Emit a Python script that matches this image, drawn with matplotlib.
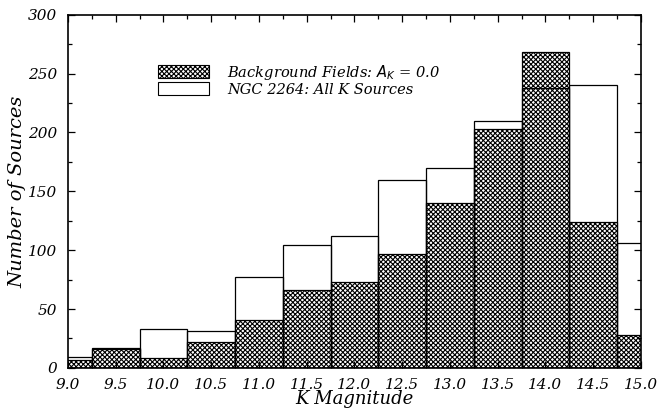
import numpy as np
import matplotlib.pyplot as plt
from matplotlib.patches import Patch
from matplotlib.ticker import MultipleLocator

plt.rcParams['font.family'] = ['DejaVu Serif']
plt.rcParams['font.style'] = 'italic'
plt.rcParams['hatch.linewidth'] = 0.8

# bin centres (K magnitude) and counts
k_mag = [9.0, 9.5, 10.0, 10.5, 11.0, 11.5, 12.0, 12.5, 13.0, 13.5, 14.0, 14.5, 15.0]
background = [7, 17, 8, 22, 41, 66, 73, 97, 140, 203, 268, 124, 28]
ngc2264 = [9, 16, 33, 31, 77, 104, 112, 160, 170, 210, 238, 240, 106]

fig = plt.figure(figsize=(6.6, 4.11), dpi=100)
ax = fig.add_axes([0.103, 0.105, 0.868, 0.859])

ax.bar(k_mag, background, width=0.5, facecolor='white', edgecolor='black',
       hatch='xxxxxxx', linewidth=0.9)
ax.bar(k_mag, ngc2264, width=0.5, facecolor='none', edgecolor='black',
       linewidth=0.9)

ax.set_xlim(9.0, 15.0)
ax.set_ylim(0, 300)
ax.xaxis.set_major_locator(MultipleLocator(0.5))
ax.xaxis.set_minor_locator(MultipleLocator(0.25))
ax.yaxis.set_major_locator(MultipleLocator(50))
ax.yaxis.set_minor_locator(MultipleLocator(25))
ax.xaxis.set_major_formatter(lambda v, p: f'{v:.1f}')
ax.tick_params(which='both', direction='in', top=True, right=True,
               labelsize=11, width=0.9)
ax.tick_params(axis='x', pad=7)
ax.tick_params(axis='y', pad=8)
ax.tick_params(which='major', length=5)
ax.tick_params(which='minor', length=3)
for s in ax.spines.values():
    s.set_linewidth(1.2)

ax.set_xlabel('K Magnitude', fontsize=13, labelpad=-1)
ax.set_ylabel('Number of Sources', fontsize=14, labelpad=1)

handles = [Patch(facecolor='white', edgecolor='black', hatch='xxxxxxx', linewidth=0.8),
           Patch(facecolor='white', edgecolor='black', linewidth=0.8)]
labels = [r'Background Fields: $A_K$ = 0.0', 'NGC 2264: All K Sources']
ax.legend(handles, labels, loc='upper left', bbox_to_anchor=(0.145, 0.885),
          frameon=False, fontsize=10.5, handlelength=3.5, handleheight=1.0,
          labelspacing=0.05, handletextpad=1.2, borderpad=0)

fig.savefig('out.png', dpi=100)
